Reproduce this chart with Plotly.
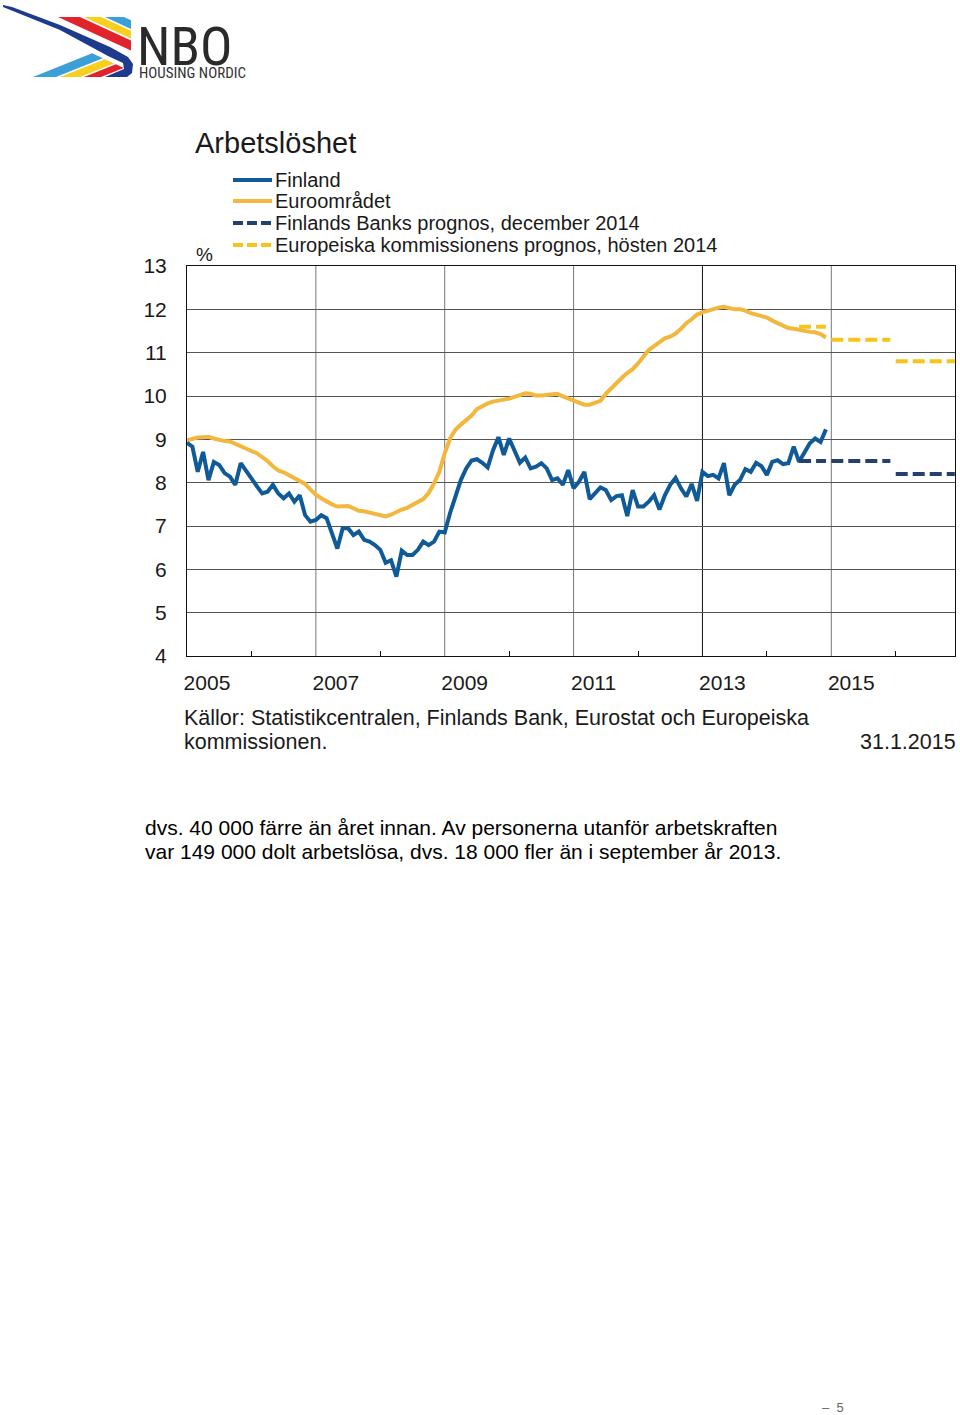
import plotly.graph_objects as go

# ---------------- data ----------------
# Monthly unemployment rate (%), Jan 2005 - Dec 2014
finland = [8.92, 8.83, 8.25, 8.71, 8.06, 8.48, 8.41, 8.22, 8.14, 7.95, 8.45, 8.29,
           8.10, 7.92, 7.75, 7.79, 7.95, 7.75, 7.64, 7.75, 7.56, 7.71, 7.25, 7.10,
           7.14, 7.25, 7.18, 6.83, 6.48, 6.95, 6.95, 6.79, 6.87, 6.68, 6.64, 6.56,
           6.45, 6.15, 6.21, 5.83, 6.43, 6.33, 6.33, 6.45, 6.64, 6.56, 6.64, 6.87,
           6.85, 7.30, 7.65, 8.06, 8.33, 8.51, 8.54, 8.46, 8.35, 8.75, 9.05, 8.64,
           9.02, 8.75, 8.46, 8.58, 8.33, 8.37, 8.45, 8.33, 8.06, 8.10, 7.95, 8.29,
           7.87, 8.02, 8.25, 7.62, 7.74, 7.89, 7.83, 7.60, 7.69, 7.71, 7.23, 7.83,
           7.45, 7.45, 7.56, 7.71, 7.38, 7.71, 7.95, 8.11, 7.87, 7.68, 7.97, 7.58,
           8.25, 8.15, 8.18, 8.10, 8.45, 7.71, 7.95, 8.06, 8.31, 8.25, 8.46, 8.38,
           8.18, 8.48, 8.52, 8.43, 8.45, 8.83, 8.48, 8.71, 8.91, 9.02, 8.94, 9.23]

euroarea = [8.98, 9.02, 9.04, 9.05, 9.06, 9.02, 8.98, 8.96, 8.95, 8.89, 8.84, 8.78,
            8.73, 8.68, 8.60, 8.50, 8.38, 8.28, 8.24, 8.17, 8.12, 8.05, 7.97, 7.84,
            7.72, 7.64, 7.56, 7.50, 7.45, 7.46, 7.46, 7.41, 7.35, 7.34, 7.31, 7.27,
            7.25, 7.22, 7.26, 7.33, 7.38, 7.42, 7.48, 7.55, 7.62, 7.76, 7.98, 8.25,
            8.68, 9.02, 9.22, 9.34, 9.44, 9.55, 9.70, 9.77, 9.83, 9.87, 9.89, 9.92,
            9.94, 9.98, 10.02, 10.06, 10.05, 10.01, 10.01, 10.02, 10.03, 10.05, 9.99, 9.94,
            9.91, 9.85, 9.80, 9.80, 9.85, 9.89, 10.05, 10.18, 10.30, 10.42, 10.53, 10.62,
            10.75, 10.92, 11.06, 11.15, 11.25, 11.33, 11.37, 11.44, 11.55, 11.68, 11.77, 11.88,
            11.93, 11.97, 12.00, 12.04, 12.06, 12.03, 12.00, 12.00, 11.97, 11.91, 11.88, 11.85,
            11.81, 11.74, 11.68, 11.61, 11.57, 11.55, 11.52, 11.50, 11.48, 11.47, 11.43, 11.35]

start_year = 2005

# Annual forecasts
fc_years = [2014, 2015, 2016]
fc_first_month = [6, 0, 0]          # 2014 forecast drawn from July
finland_fc = [8.5, 8.5, 8.2]        # Finlands Bank, december 2014
euroarea_fc = [11.6, 11.3, 10.8]    # Europeiska kommissionen, hösten 2014

year_labels = ["2005", "2007", "2009", "2011", "2013", "2015"]
grid_years = [2007, 2009, 2011, 2013, 2015]
minor_years = [2006, 2008, 2010, 2012, 2014, 2016]
y_ticks = [4, 5, 6, 7, 8, 9, 10, 11, 12, 13]

legend_labels = ["Finland", "Euroområdet",
                 "Finlands Banks prognos, december 2014",
                 "Europeiska kommissionens prognos, hösten 2014"]

source_lines = ["Källor: Statistikcentralen, Finlands Bank, Eurostat och Europeiska",
                "kommissionen."]
body_lines = ["dvs. 40 000 färre än året innan. Av personerna utanför arbetskraften",
              "var 149 000 dolt arbetslösa, dvs. 18 000 fler än i september år 2013."]

# ---------------- styling ----------------
W, H = 960, 1415
L, R, T, B = 187, 955, 266, 656   # plot area in page pixels
FONT = "Liberation Sans, Arial, Helvetica, sans-serif"
NARROW = "Liberation Sans Narrow, Arial Narrow, Roboto Condensed, Liberation Sans, sans-serif"
C_FIN = "#0f5a97"
C_EZ = "#f3b73d"
C_FIN_FC = "#23406f"
C_EZ_FC = "#f7c41a"
TXT = "#1a1a1a"


def px(x):
    return (x - L) / (R - L)


def py(y):
    return (B - y) / (B - T)


x_month = [start_year + i / 12 for i in range(len(finland))]


def fc_xy(vals):
    xs, ys = [], []
    for yr, m0, v in zip(fc_years, fc_first_month, vals):
        for m in range(m0, 12):
            xs.append(yr + m / 12)
            ys.append(v)
        xs.append(None)
        ys.append(None)
    return xs, ys


fig = go.Figure()
fig.add_trace(go.Scatter(x=x_month, y=euroarea, mode="lines", name=legend_labels[1],
                         line=dict(color=C_EZ, width=4), showlegend=False))
fig.add_trace(go.Scatter(x=x_month, y=finland, mode="lines", name=legend_labels[0],
                         line=dict(color=C_FIN, width=4), showlegend=False))
fx, fy = fc_xy(euroarea_fc)
fig.add_trace(go.Scatter(x=fx, y=fy, mode="lines", name=legend_labels[3],
                         line=dict(color=C_EZ_FC, width=4, dash="12px,5px"),
                         showlegend=False, connectgaps=False))
fx, fy = fc_xy(finland_fc)
fig.add_trace(go.Scatter(x=fx, y=fy, mode="lines", name=legend_labels[2],
                         line=dict(color=C_FIN_FC, width=4, dash="12px,5px"),
                         showlegend=False, connectgaps=False))

shapes = []
# vertical gridlines
for g in grid_years:
    shapes.append(dict(type="line", xref="x", yref="paper", x0=g, x1=g, y0=0, y1=1,
                       line=dict(color="#111" if g == 2013 else "#777", width=1),
                       layer="below"))

# legend samples
legend_y = [180, 201, 223, 245]
legend_cols = [C_FIN, C_EZ, C_FIN_FC, C_EZ_FC]
legend_dash = ["solid", "solid", "10px,4px", "10px,4px"]
annotations = []
for lab, yy, col, d in zip(legend_labels, legend_y, legend_cols, legend_dash):
    shapes.append(dict(type="line", xref="paper", yref="paper", x0=px(233), x1=px(272),
                       y0=py(yy), y1=py(yy), line=dict(color=col, width=4, dash=d)))
    annotations.append(dict(text=lab, xref="paper", yref="paper", x=px(273), y=py(yy),
                            xanchor="left", yanchor="middle", showarrow=False,
                            font=dict(family=FONT, size=20, color=TXT)))

# ---- logo (NBO Housing Nordic) ----
def poly(points, color):
    path = "M " + " L ".join(f"{px(a):.5f},{py(b):.5f}" for a, b in points) + " Z"
    return dict(type="path", xref="paper", yref="paper", path=path,
                fillcolor=color, line=dict(width=0))

LOGO_BLUE = "#1d3a8c"
LOGO_RED = "#e3232c"
LOGO_YEL = "#f6d01a"
LOGO_LB = "#3b9fd8"

def up_band(x0a, x0b):
    s = 0.46
    return [(x0a, 17), (x0b, 17), (131, 17 + s * (131 - x0b)), (131, 17 + s * (131 - x0a))]

def low_band(x0a, x0b):
    pts = []
    for x0 in (x0a, x0b):
        xt = (66 + 0.4 * x0) / 0.86
        pts.append((xt, 57 + 0.46 * (xt - 100)))
    return [(x0a, 77), (x0b, 77), pts[1], pts[0]]

shapes.append(poly(up_band(58, 80), LOGO_RED))
shapes.append(poly(up_band(84, 101), LOGO_YEL))
shapes.append(poly(up_band(105, 124), LOGO_LB))
shapes.append(poly(low_band(33, 56), LOGO_LB))
shapes.append(poly(low_band(60, 80), LOGO_YEL))
shapes.append(poly(low_band(84, 101), LOGO_RED))
shapes.append(poly([(3, 5), (12, 7), (60, 25), (110, 47), (128, 57), (133, 64), (132, 73),
                    (127, 77), (105, 77), (124, 69), (123, 63), (108, 56), (60, 30), (3, 7)],
                   LOGO_BLUE))

annotations += [
    dict(text="NBO", xref="paper", yref="paper", x=px(135), y=py(46), xanchor="left",
         yanchor="middle", showarrow=False, font=dict(family=NARROW, size=54, color="#2a2a2a")),
    dict(text="HOUSING NORDIC", xref="paper", yref="paper", x=px(137), y=py(73),
         xanchor="left", yanchor="middle", showarrow=False,
         font=dict(family=NARROW, size=15, color="#333")),
    dict(text="Arbetslöshet", xref="paper", yref="paper", x=px(193), y=py(143),
         xanchor="left", yanchor="middle", showarrow=False,
         font=dict(family=FONT, size=29, color=TXT)),
    dict(text="%", xref="paper", yref="paper", x=px(194), y=py(254), xanchor="left",
         yanchor="middle", showarrow=False, font=dict(family=FONT, size=19, color=TXT)),
    dict(text="31.1.2015", xref="paper", yref="paper", x=px(958), y=py(742),
         xanchor="right", yanchor="middle", showarrow=False,
         font=dict(family=FONT, size=21.5, color=TXT)),
    dict(text="–  5", xref="paper", yref="paper", x=px(846), y=py(1407), xanchor="right",
         yanchor="middle", showarrow=False, font=dict(family=FONT, size=13, color="#666")),
]
for txt, yy in zip(source_lines, [718, 742]):
    annotations.append(dict(text=txt, xref="paper", yref="paper", x=px(182), y=py(yy),
                            xanchor="left", yanchor="middle", showarrow=False,
                            font=dict(family=FONT, size=21.5, color=TXT)))
for txt, yy in zip(body_lines, [827, 851]):
    annotations.append(dict(text=txt, xref="paper", yref="paper", x=px(143), y=py(yy),
                            xanchor="left", yanchor="middle", showarrow=False,
                            font=dict(family=FONT, size=21, color="#000")))

label_offset = 0.31
fig.update_layout(
    width=W, height=H,
    margin=dict(l=L, r=W - R, t=T, b=H - B, pad=0),
    paper_bgcolor="white", plot_bgcolor="white",
    showlegend=False,
    shapes=shapes,
    annotations=annotations,
    xaxis=dict(range=[2005, 2016.92], tickmode="array",
               tickvals=[int(s) + label_offset for s in year_labels], ticktext=year_labels,
               ticks="", showgrid=False, zeroline=False,
               showline=True, linecolor="#111", linewidth=1, mirror=True,
               tickfont=dict(family=FONT, size=21, color=TXT), ticklabelstandoff=8,
               minor=dict(tickmode="array", tickvals=minor_years, ticks="inside",
                          ticklen=5, tickwidth=1, tickcolor="#111", showgrid=False)),
    yaxis=dict(range=[4, 13], tickmode="array", tickvals=y_ticks,
               ticktext=[str(v) for v in y_ticks], ticks="",
               showgrid=True, gridcolor="#555", gridwidth=1, zeroline=False,
               showline=True, linecolor="#111", linewidth=1, mirror=True,
               tickfont=dict(family=FONT, size=21, color=TXT), ticklabelstandoff=15),
)

# page styling: no body margin, no scrollbars, so the figure fills the window exactly
page_css = ("document.documentElement.style.overflow='hidden';"
            "document.body.style.margin='0';document.body.style.overflow='hidden';")
fig.write_html("out.html", post_script=page_css, config={"displayModeBar": False})
